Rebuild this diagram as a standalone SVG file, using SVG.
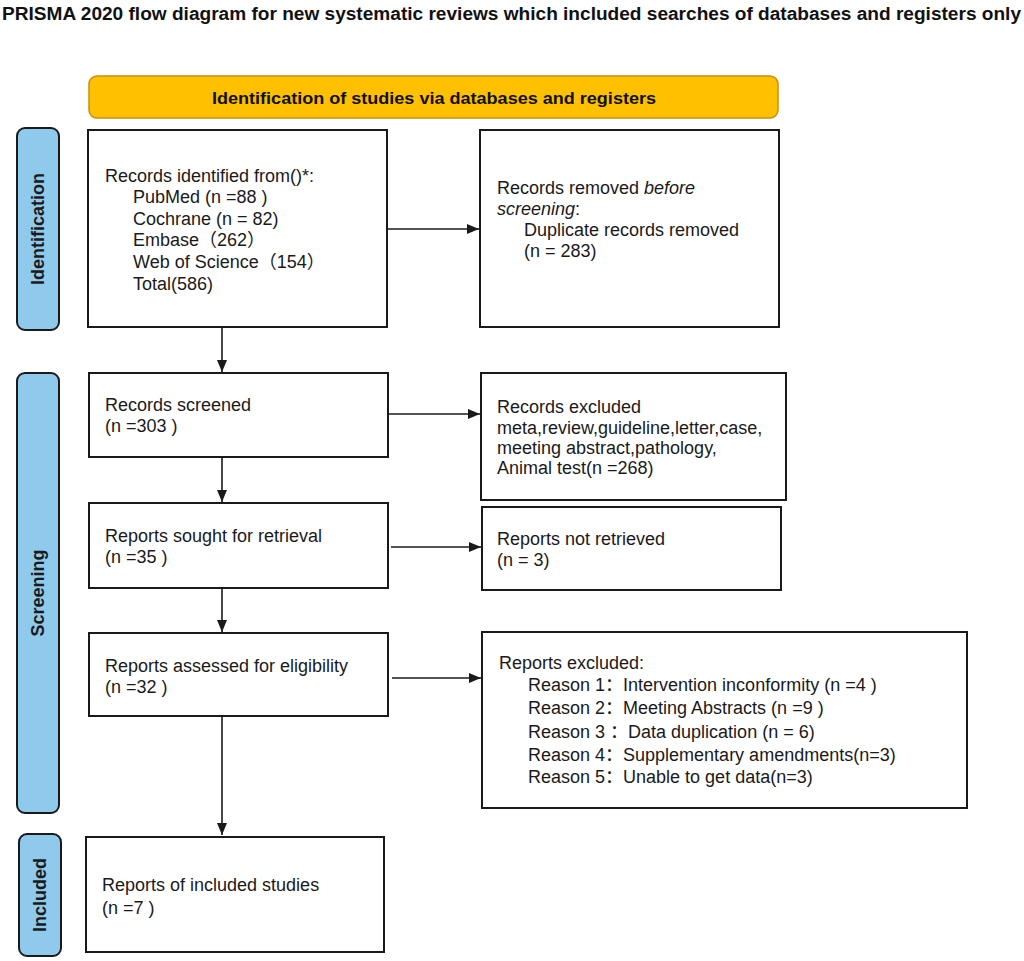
<svg xmlns="http://www.w3.org/2000/svg" width="1024" height="961" viewBox="0 0 1024 961">
<style>
.box{fill:#fff;stroke:#1a1a1a;stroke-width:2}
.side{fill:#8FC9EC;stroke:#1a1a1a;stroke-width:2}
.t{font-family:"Liberation Sans",Arial,"Noto Sans CJK SC",sans-serif;font-size:18px;fill:#1a1a1a}
.st{font-family:"Liberation Sans",Arial,sans-serif;font-size:18px;font-weight:bold;fill:#1a1a1a}
.conn{stroke:#1a1a1a;stroke-width:1.6;fill:none}
</style>
<defs>
<marker id="ah2" viewBox="0 0 12 10" refX="12" refY="5" markerWidth="12" markerHeight="10" markerUnits="userSpaceOnUse" orient="auto">
<path d="M0,0 L12,5 L0,10 z" fill="#1a1a1a"/>
</marker>
</defs>
<rect width="1024" height="961" fill="#fff"/>
<g id="title">
<text x="2" y="20" font-family="'Liberation Sans',Arial,sans-serif" font-size="17.5" font-weight="bold" fill="#111" textLength="1019" lengthAdjust="spacingAndGlyphs">PRISMA 2020 flow diagram for new systematic reviews which included searches of databases and registers only</text>
</g>
<g id="banner">
<rect x="89" y="76" width="689" height="42" rx="8" fill="#FFC000" stroke="#C8900A" stroke-width="1.5"/>
<text x="434" y="104" text-anchor="middle" font-family="'Liberation Sans',Arial,sans-serif" font-size="16.5" font-weight="bold" fill="#111" textLength="444" lengthAdjust="spacingAndGlyphs">Identification of studies via databases and registers</text>
</g>
<g id="label-identification">
<rect class="side" x="17" y="128" width="42" height="202" rx="8"/>
<text class="st" transform="translate(44,229) rotate(-90)" text-anchor="middle">Identification</text>
</g>
<g id="label-screening">
<rect class="side" x="17" y="373" width="42" height="440" rx="8"/>
<text class="st" transform="translate(44,593) rotate(-90)" text-anchor="middle">Screening</text>
</g>
<g id="label-included">
<rect class="side" x="19" y="834" width="42" height="122" rx="8"/>
<text class="st" transform="translate(46,895) rotate(-90)" text-anchor="middle">Included</text>
</g>
<g id="records-identified">
<rect class="box" x="88" y="130" width="299" height="197"/>
<text class="t" x="105" y="182">Records identified from()*:</text>
<text class="t" x="133" y="203">PubMed (n =88 )</text>
<text class="t" x="133" y="225">Cochrane (n = 82)</text>
<text class="t" x="133" y="246">Embase（262）</text>
<text class="t" x="133" y="268">Web of Science（154）</text>
<text class="t" x="133" y="290">Total(586)</text>
</g>
<g id="records-removed">
<rect class="box" x="480" y="130" width="299" height="197"/>
<text class="t" x="497" y="194">Records removed <tspan font-style="italic">before</tspan></text>
<text class="t" x="497" y="215"><tspan font-style="italic">screening</tspan>:</text>
<text class="t" x="524" y="236">Duplicate records removed</text>
<text class="t" x="524" y="257">(n = 283)</text>
</g>
<g id="records-screened">
<rect class="box" x="89" y="373" width="299" height="84"/>
<text class="t" x="105" y="411">Records screened</text>
<text class="t" x="105" y="432">(n =303 )</text>
</g>
<g id="records-excluded">
<rect class="box" x="481" y="373" width="305" height="127"/>
<text class="t" x="497" y="413">Records excluded</text>
<text class="t" x="497" y="434">meta,review,guideline,letter,case,</text>
<text class="t" x="497" y="454">meeting abstract,pathology,</text>
<text class="t" x="497" y="474">Animal test(n =268)</text>
</g>
<g id="reports-sought">
<rect class="box" x="89" y="503" width="299" height="85"/>
<text class="t" x="105" y="542">Reports sought for retrieval</text>
<text class="t" x="105" y="563">(n =35 )</text>
</g>
<g id="reports-not-retrieved">
<rect class="box" x="482" y="507" width="299" height="83"/>
<text class="t" x="497" y="545">Reports not retrieved</text>
<text class="t" x="497" y="566">(n = 3)</text>
</g>
<g id="reports-assessed">
<rect class="box" x="89" y="633" width="299" height="83"/>
<text class="t" x="105" y="672">Reports assessed for eligibility</text>
<text class="t" x="105" y="693">(n =32 )</text>
</g>
<g id="reports-excluded">
<rect class="box" x="482" y="632" width="485" height="176"/>
<text class="t" x="499" y="669">Reports excluded:</text>
<text class="t" x="528" y="691">Reason 1：Intervention inconformity (n =4 )</text>
<text class="t" x="528" y="714">Reason 2：Meeting Abstracts (n =9 )</text>
<text class="t" x="528" y="738">Reason 3 ：Data duplication (n = 6)</text>
<text class="t" x="528" y="761">Reason 4：Supplementary amendments(n=3)</text>
<text class="t" x="528" y="783">Reason 5：Unable to get data(n=3)</text>
</g>
<g id="included-studies">
<rect class="box" x="86" y="837" width="298" height="115"/>
<text class="t" x="102" y="891">Reports of included studies</text>
<text class="t" x="102" y="914">(n =7 )</text>
</g>
<g id="connectors">
<line class="conn" x1="387" y1="229" x2="479" y2="229" marker-end="url(#ah2)"/>
<line class="conn" x1="222" y1="327" x2="222" y2="372" marker-end="url(#ah2)"/>
<line class="conn" x1="388" y1="414" x2="480" y2="414" marker-end="url(#ah2)"/>
<line class="conn" x1="222" y1="457" x2="222" y2="502" marker-end="url(#ah2)"/>
<line class="conn" x1="391" y1="547" x2="481" y2="547" marker-end="url(#ah2)"/>
<line class="conn" x1="222" y1="588" x2="222" y2="632" marker-end="url(#ah2)"/>
<line class="conn" x1="392" y1="678" x2="481" y2="678" marker-end="url(#ah2)"/>
<line class="conn" x1="222" y1="716" x2="222" y2="835" marker-end="url(#ah2)"/>
</g>
</svg>
